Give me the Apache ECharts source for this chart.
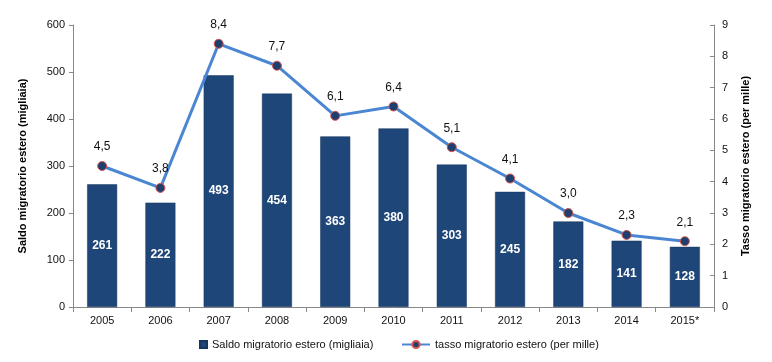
<!DOCTYPE html>
<html><head><meta charset="utf-8">
<script src="https://cdn.jsdelivr.net/npm/echarts@6/dist/echarts.min.js"></script>
<style>html,body{margin:0;padding:0;background:#fff}#c{width:772px;height:362px}</style>
</head><body><div id="c"></div>
<script>
const categories = ['2005','2006','2007','2008','2009','2010','2011','2012','2013','2014','2015*'];
const saldo = [261,222,493,454,363,380,303,245,182,141,128];
const tasso = [4.5,3.8,8.4,7.7,6.1,6.4,5.1,4.1,3.0,2.3,2.1];
const leftTicks = {min:0,max:600,interval:100};
const rightTicks = {min:0,max:9,interval:1};

const font = 'Liberation Sans, Arial, sans-serif';
const chart = echarts.init(document.getElementById('c'));
chart.setOption({
  animation:false,
  textStyle:{fontFamily:font},
  grid:{left:73,right:58,top:25,bottom:55},
  legend:[{
    bottom:7,left:194,itemWidth:7,itemHeight:7,itemGap:6,
    textStyle:{fontFamily:font,fontSize:11,color:'#111'},
    data:[{name:'Saldo migratorio estero (migliaia)',icon:'rect'}]
  },{
    bottom:7,left:396,itemWidth:28,itemHeight:9,
    textStyle:{fontFamily:font,fontSize:11,color:'#111'},
    data:[{name:'tasso migratorio estero (per mille)'}]
  }],
  xAxis:{
    type:'category',data:categories,
    axisLine:{lineStyle:{color:'#888'}},
    axisTick:{show:true,alignWithLabel:false,length:5,lineStyle:{color:'#888'}},
    axisLabel:{color:'#111',fontSize:11,fontFamily:font,margin:8}
  },
  yAxis:[{
    type:'value',min:leftTicks.min,max:leftTicks.max,interval:leftTicks.interval,
    name:'Saldo migratorio estero (migliaia)',nameLocation:'middle',nameGap:45,nameRotate:90,
    nameTextStyle:{fontWeight:'bold',fontSize:11,color:'#000',fontFamily:font},
    splitLine:{show:false},
    axisLine:{show:true,lineStyle:{color:'#888'}},
    axisTick:{show:true,length:4,lineStyle:{color:'#888'}},
    axisLabel:{color:'#111',fontSize:11,fontFamily:font,margin:8}
  },{
    type:'value',min:rightTicks.min,max:rightTicks.max,interval:rightTicks.interval,
    name:'Tasso migratorio estero (per mille)',nameLocation:'middle',nameGap:26,nameRotate:90,
    nameTextStyle:{fontWeight:'bold',fontSize:11,color:'#000',fontFamily:font},
    splitLine:{show:false},
    axisLine:{show:true,lineStyle:{color:'#888'}},
    axisTick:{show:true,inside:true,length:4,lineStyle:{color:'#888'}},
    axisLabel:{color:'#111',fontSize:11,fontFamily:font,margin:8}
  }],
  series:[{
    name:'Saldo migratorio estero (migliaia)',type:'bar',data:saldo,barWidth:30,
    itemStyle:{color:'#1f4678',borderColor:'#17365e',borderWidth:0.5},
    label:{show:true,position:'inside',color:'#fff',fontWeight:'bold',fontSize:12,fontFamily:font}
  },{
    name:'tasso migratorio estero (per mille)',type:'line',yAxisIndex:1,data:tasso,
    symbol:'circle',symbolSize:9,
    lineStyle:{color:'#4a86d2',width:3},
    itemStyle:{color:'#1f3f6e',borderColor:'#d9534f',borderWidth:1},
    label:{show:true,position:'top',distance:8,color:'#111',fontSize:12,fontFamily:font,
      formatter:p=>p.value.toFixed(1).replace('.',',')}
  }]
});
</script></body></html>
